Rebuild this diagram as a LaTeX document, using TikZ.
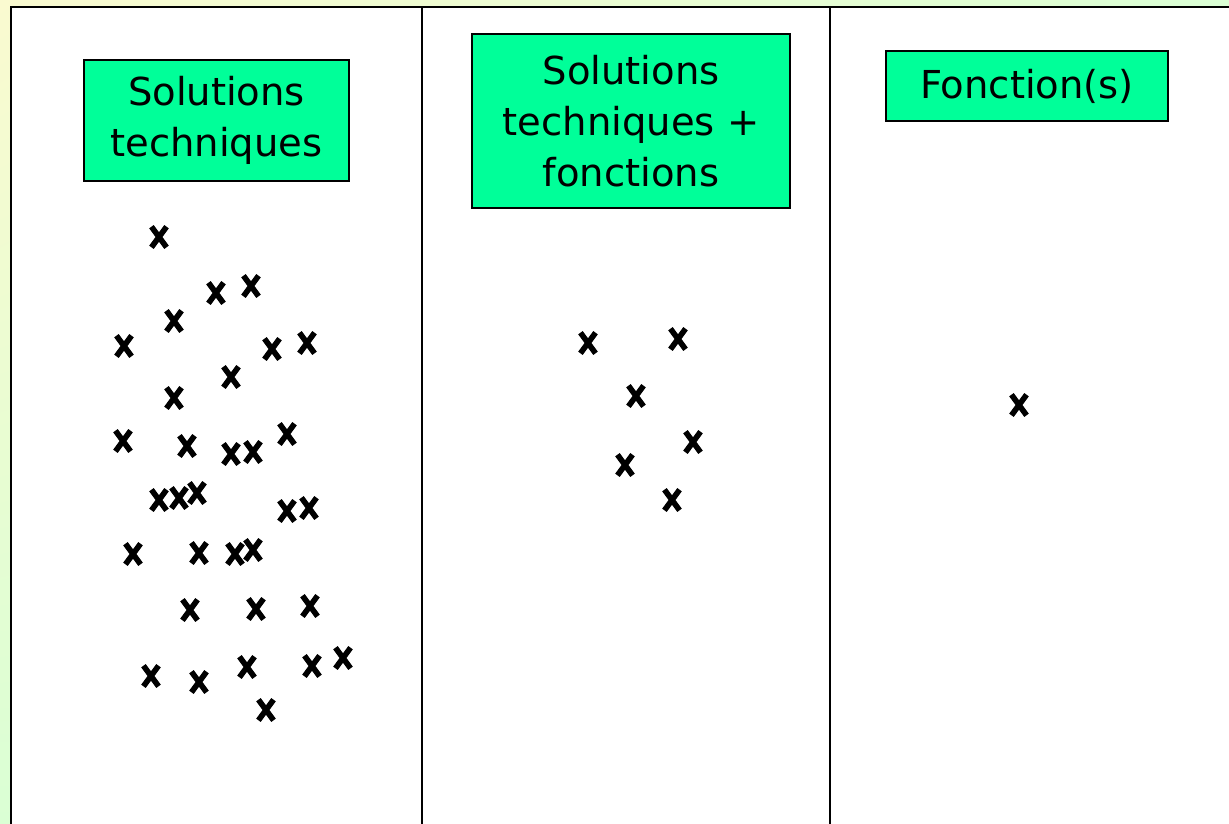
\documentclass[tikz,border=0pt]{standalone}
\usepackage{fontspec}
\setmainfont{DejaVu Sans}
\usetikzlibrary{positioning,shapes.misc,shadings}
\definecolor{boxgreen}{RGB}{0,255,153}
\definecolor{bgyellow}{RGB}{250,250,208}
\definecolor{bggreen}{RGB}{218,255,212}
\tikzset{titlebox/.style = {draw,line width=1.6pt,fill=boxgreen,align=center,
                            font=\fontsize{38.5}{51}\selectfont,inner sep=0pt},
         cross/.style = {cross out,draw,line width=5.6pt,inner sep=0pt,
                         minimum width=9.5pt,minimum height=15pt}}
\begin{document}
\begin{tikzpicture}[x=1pt,y=-1pt]
                    \useasboundingbox (0,0) rectangle (1229,824);
                    \clip (0,0) rectangle (1229,824);
                    % background and panel
                    \shade[upper left=bgyellow,upper right=bggreen,lower left=bggreen,lower right=bggreen]
                        (0,0) rectangle (1229,824);
                    \draw[fill=white,line width=2pt] (11,7) rectangle (1250,850);
                    \draw[line width=1.3pt] (422,7) -- (422,824);
                    \draw[line width=1.3pt] (830,7) -- (830,824);
                    % headers
                    \node[titlebox,minimum width=265pt,minimum height=121pt] (tech) at (216.5,120.5)
                        {Solutions\\techniques};
                    \node[titlebox,minimum width=318pt,minimum height=174pt] (both) at (631,121)
                        {Solutions\\techniques +\\fonctions};
                    \node[titlebox,minimum width=282pt,minimum height=70pt] (func) at (1027,86)
                        {Fonction(s)};
                    % crosses
                    \foreach \x/\y [count=\i] in {159/237,216/293,251/286,174/321,124/346,272/349,
                        307/343,231/377,174/398,123/441,187/446,231/454,253/452,287/434,
                        159/500,179/498,197/493,287/511,309/508,133/554,199/553,235/554,
                        253/550,190/610,256/609,310/606,151/676,199/682,247/667,312/666,
                        343/658,266/710}
                        \node[cross] (t\i) at (\x,\y) {};
                    \foreach \x/\y [count=\i] in {588/343,678/339,636/396,693/442,625/465,672/500}
                        \node[cross] (b\i) at (\x,\y) {};
                    \node[cross] (f1) at (1019,405) {};
                \end{tikzpicture}
\end{document}
